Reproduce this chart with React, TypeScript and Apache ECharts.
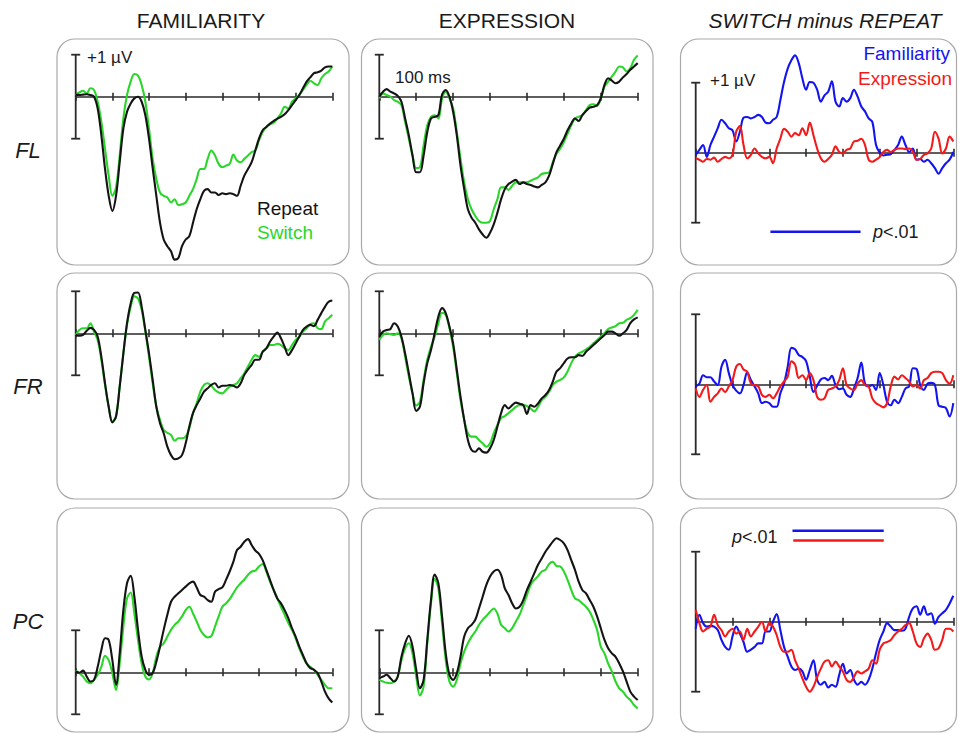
import React, { useEffect, useRef } from 'react';
import * as echarts from 'echarts';

// ---------- data (µV, sampled every 10 ms from 0 to 700 ms) ----------
const TIME_MS = [
  0, 10, 20, 30, 40, 50, 60, 70, 80, 90,
  100, 110, 120, 130, 140, 150, 160, 170, 180, 190,
  200, 210, 220, 230, 240, 250, 260, 270, 280, 290,
  300, 310, 320, 330, 340, 350, 360, 370, 380, 390,
  400, 410, 420, 430, 440, 450, 460, 470, 480, 490,
  500, 510, 520, 530, 540, 550, 560, 570, 580, 590,
  600, 610, 620, 630, 640, 650, 660, 670, 680, 690,
  700,
];
const TICK_MS = 100;

const COLUMN_TITLES = ['FAMILIARITY', 'EXPRESSION', 'SWITCH minus REPEAT'];
const ROW_LABELS = ['FL', 'FR', 'PC'];
const CONDITION_LABELS = ['Repeat', 'Switch'];
const EFFECT_LABELS = ['Familiarity', 'Expression'];

const FL_FAM_REPEAT = [
  0.05, 0.04, 0.05, 0.06, 0.04, 0, -0.28, -0.92, -1.72, -2.36,
  -2.72, -2.36, -1.56, -0.76, -0.36, -0.16, -0.04, 0, -0.12, -0.44,
  -1.0, -1.7, -2.36, -3.0, -3.4, -3.56, -3.68, -3.88, -3.84, -3.56,
  -3.4, -3.32, -3.0, -2.68, -2.44, -2.24, -2.2, -2.28, -2.28, -2.34,
  -2.3, -2.32, -2.3, -2.32, -2.36, -2.12, -1.88, -1.72, -1.56, -1.28,
  -1.0, -0.8, -0.72, -0.64, -0.58, -0.52, -0.48, -0.42, -0.32, -0.2,
  -0.08, 0.04, 0.2, 0.36, 0.46, 0.56, 0.58, 0.62, 0.7, 0.72,
  0.72,
];
const FL_FAM_SWITCH = [
  0.04, 0.1, 0.14, 0.08, 0.2, 0.16, -0.12, -0.6, -1.24, -1.88,
  -2.36, -2.16, -1.4, -0.52, 0.04, 0.36, 0.54, 0.5, 0.28, -0.12,
  -0.76, -1.48, -1.96, -2.28, -2.36, -2.4, -2.52, -2.44, -2.58, -2.56,
  -2.52, -2.36, -2.2, -1.96, -1.72, -1.72, -1.48, -1.28, -1.4, -1.6,
  -1.68, -1.64, -1.6, -1.38, -1.52, -1.56, -1.48, -1.4, -1.32, -1.28,
  -1.04, -0.84, -0.72, -0.66, -0.62, -0.52, -0.4, -0.24, -0.28, -0.12,
  -0.04, 0.04, 0.16, 0.28, 0.38, 0.32, 0.28, 0.44, 0.54, 0.6,
  0.72,
];
const FL_EXP_REPEAT = [
  0, 0.12, 0.18, 0.12, 0.08, 0.02, -0.12, -0.52, -0.92, -1.4,
  -1.8, -1.8, -1.4, -0.84, -0.52, -0.48, -0.44, 0.05, 0.16, 0,
  -0.36, -0.92, -1.64, -2.2, -2.68, -2.88, -3.0, -3.16, -3.28, -3.36,
  -3.24, -3.04, -2.76, -2.44, -2.2, -2.08, -2.02, -1.98, -2.08, -2.04,
  -2.08, -2.1, -2.14, -2.16, -2.1, -2.04, -1.88, -1.6, -1.32, -1.16,
  -1.0, -0.8, -0.64, -0.52, -0.58, -0.44, -0.34, -0.26, -0.24, -0.2,
  -0.04, 0.28, 0.44, 0.38, 0.32, 0.36, 0.46, 0.54, 0.64, 0.72,
  0.8,
];
const FL_EXP_SWITCH = [
  -0.04, 0.08, 0.04, 0, -0.08, -0.12, -0.2, -0.6, -1.0, -1.4,
  -1.7, -1.68, -1.16, -0.68, -0.48, -0.44, -0.52, -0.05, 0.12, -0.04,
  -0.28, -0.84, -1.48, -2.04, -2.44, -2.68, -2.84, -2.96, -3.0, -3.0,
  -2.96, -2.68, -2.44, -2.16, -2.16, -2.22, -2.12, -2.04, -2.04, -2.04,
  -2.04, -2.0, -1.96, -1.92, -1.84, -1.82, -1.8, -1.56, -1.36, -1.24,
  -1.08, -0.88, -0.68, -0.52, -0.48, -0.44, -0.32, -0.2, -0.18, -0.22,
  -0.04, 0.24, 0.36, 0.48, 0.6, 0.72, 0.7, 0.6, 0.68, 0.88,
  0.98,
];
const FL_DIFF_FAM = [
  -0.03, 0.04, 0.11, -0.06, 0.11, 0.23, 0.35, 0.47, 0.42, 0.35,
  0.32, 0.16, 0.3, 0.5, 0.51, 0.49, 0.51, 0.54, 0.51, 0.43,
  0.42, 0.47, 0.51, 0.75, 1.01, 1.2, 1.32, 1.39, 1.28, 1.06,
  0.9, 1.01, 1.0, 0.9, 0.73, 0.82, 0.87, 1.02, 0.73, 0.66,
  0.78, 0.73, 0.78, 0.9, 0.8, 0.66, 0.59, 0.49, 0.44, 0.11,
  0, -0.04, -0.03, -0.02, 0.04, 0.11, 0.23, 0.11, 0.01, 0.06,
  -0.1, -0.09, -0.13, -0.1, -0.15, -0.22, -0.3, -0.22, -0.15, -0.1,
  0.01,
];
const FL_DIFF_EXP = [
  -0.08, -0.1, -0.13, -0.09, -0.1, -0.07, -0.13, -0.09, -0.06, -0.08,
  -0.03, 0.3, 0.38, 0.11, -0.08, -0.03, 0.06, -0.01, -0.06, -0.08,
  -0.06, -0.15, 0.06, 0.2, 0.34, 0.3, 0.23, 0.28, 0.25, 0.35,
  0.25, 0.43, 0.25, 0.06, -0.08, -0.13, -0.09, -0.03, 0.09, 0.01,
  -0.01, 0.04, 0.06, 0.16, 0.17, 0.2, 0.11, -0.1, -0.13, -0.1,
  -0.06, 0.01, 0.04, 0.01, 0.04, 0.06, 0.06, 0.05, 0.06, 0.02,
  -0.1, -0.09, -0.03, -0.01, 0.06, 0.3, 0.2, -0.01, 0.06, 0.23,
  0.16,
];
const FR_FAM_REPEAT = [
  -0.04, -0.06, -0.04, 0.06, 0.13, 0.08, -0.08, -0.56, -1.19, -1.75,
  -2.12, -1.98, -1.27, -0.48, 0.24, 0.71, 0.96, 0.97, 0.63, 0.08,
  -0.48, -1.11, -1.75, -2.14, -2.38, -2.7, -2.9, -3.0, -2.98, -2.9,
  -2.62, -2.22, -1.9, -1.71, -1.55, -1.39, -1.31, -1.23, -1.19, -1.29,
  -1.25, -1.25, -1.23, -1.25, -1.29, -1.19, -0.99, -0.86, -0.75, -0.63,
  -0.63, -0.44, -0.36, -0.2, -0.08, 0.02, -0.12, -0.32, -0.52, -0.4,
  -0.24, -0.08, 0.08, 0.16, 0.2, 0.17, 0.32, 0.48, 0.63, 0.75,
  0.78,
];
const FR_FAM_SWITCH = [
  -0.04, 0.08, 0.12, 0.12, 0.24, 0.04, -0.16, -0.63, -1.23, -1.75,
  -2.1, -1.98, -1.27, -0.48, 0.2, 0.63, 0.88, 0.83, 0.56, 0.04,
  -0.56, -1.19, -1.75, -2.06, -2.3, -2.37, -2.42, -2.56, -2.5, -2.5,
  -2.46, -2.26, -1.9, -1.67, -1.39, -1.23, -1.19, -1.25, -1.35, -1.41,
  -1.43, -1.35, -1.27, -1.23, -1.19, -1.07, -0.95, -0.79, -0.63, -0.52,
  -0.56, -0.44, -0.36, -0.28, -0.28, -0.25, -0.28, -0.36, -0.4, -0.28,
  -0.16, -0.08, 0.04, 0.12, 0.22, 0.24, 0.12, 0.1, 0.28, 0.36,
  0.44,
];
const FR_EXP_REPEAT = [
  -0.08, 0.04, 0.08, 0.1, 0.24, 0.16, -0.08, -0.48, -0.95, -1.43,
  -1.85, -1.75, -1.19, -0.71, -0.4, 0, 0.4, 0.6, 0.48, 0.16,
  -0.24, -0.87, -1.51, -2.06, -2.54, -2.78, -2.82, -2.74, -2.82, -2.84,
  -2.74, -2.54, -2.22, -1.9, -1.71, -1.79, -1.71, -1.65, -1.68, -1.71,
  -1.92, -1.71, -1.75, -1.67, -1.55, -1.47, -1.35, -1.15, -0.91, -0.83,
  -0.71, -0.6, -0.57, -0.57, -0.52, -0.54, -0.44, -0.36, -0.28, -0.2,
  -0.12, -0.04, 0.04, 0.04, 0, -0.06, 0, 0.08, 0.24, 0.33,
  0.38,
];
const FR_EXP_SWITCH = [
  -0.16, -0.04, 0, -0.02, -0.04, 0, -0.12, -0.56, -1.03, -1.43,
  -1.72, -1.63, -1.11, -0.63, -0.32, -0.08, 0.24, 0.49, 0.44, 0.12,
  -0.32, -0.95, -1.59, -2.06, -2.38, -2.46, -2.46, -2.54, -2.62, -2.7,
  -2.62, -2.38, -2.18, -2.02, -1.97, -1.9, -1.83, -1.75, -1.71, -1.71,
  -1.73, -1.79, -1.86, -1.75, -1.59, -1.51, -1.39, -1.23, -1.15, -1.11,
  -1.05, -0.91, -0.71, -0.56, -0.48, -0.44, -0.38, -0.32, -0.24, -0.16,
  -0.08, 0, 0.1, 0.14, 0.17, 0.24, 0.25, 0.32, 0.36, 0.44,
  0.56,
];
const FR_DIFF_FAM = [
  -0.03, 0.01, 0.13, 0.1, 0.1, 0.04, -0.01, 0.25, 0.35, 0.16,
  -0.01, -0.09, -0.13, -0.01, 0.17, 0.06, -0.03, -0.13, -0.27, -0.25,
  -0.27, -0.32, -0.32, -0.13, 0.01, 0.25, 0.52, 0.5, 0.42, 0.39,
  0.33, 0.11, -0.11, -0.02, 0.07, 0.09, 0.06, 0.12, -0.01, -0.07,
  -0.06, -0.15, -0.18, -0.06, 0.09, 0.31, 0.01, -0.03, -0.01, -0.08,
  0.16, -0.01, -0.25, -0.3, -0.22, -0.27, -0.18, -0.06, -0.03, 0.23,
  0.22, -0.01, -0.08, 0.01, 0.02, -0.01, -0.3, -0.32, -0.34, -0.46,
  -0.27,
];
const FR_DIFF_EXP = [
  -0.06, -0.18, -0.08, -0.01, -0.25, -0.18, -0.13, -0.06, -0.11, -0.03,
  0.06, 0.25, 0.29, 0.21, 0.18, 0.01, -0.01, -0.03, -0.15, -0.18,
  -0.15, -0.2, -0.13, -0.03, 0.04, 0.11, 0.33, 0.28, 0.09, 0.13,
  0.06, 0.16, 0.06, -0.18, -0.22, -0.2, -0.08, -0.06, -0.03, 0.06,
  0.23, -0.01, -0.06, -0.08, 0.01, 0.06, -0.01, -0.03, -0.2, -0.27,
  -0.3, -0.33, -0.27, -0.03, 0.11, 0.07, 0.13, 0.09, 0.04, -0.03,
  -0.01, -0.06, 0.06, 0.09, 0.16, 0.18, 0.18, 0.16, 0.06, 0.01,
  0.13,
];
const PC_FAM_REPEAT = [
  0.02, -0.01, 0.04, -0.1, -0.22, -0.18, 0.13, 0.53, 0.81, 0.77,
  0.29, -0.3, 0.45, 1.48, 2.12, 2.3, 1.8, 1.01, 0.37, 0.06,
  -0.06, -0.02, 0.25, 0.61, 1.01, 1.37, 1.68, 1.8, 1.88, 1.96,
  2.04, 2.12, 2.16, 2.02, 1.84, 1.8, 1.72, 1.68, 1.92, 1.98,
  2.02, 2.2, 2.4, 2.63, 2.91, 2.99, 3.11, 3.17, 3.03, 2.9,
  2.82, 2.67, 2.44, 2.2, 1.96, 1.76, 1.64, 1.48, 1.29, 1.05,
  0.85, 0.61, 0.41, 0.21, 0.1, 0.06, -0.02, -0.22, -0.46, -0.62,
  -0.72,
];
const PC_FAM_SWITCH = [
  0.04, -0.02, -0.1, -0.22, -0.26, -0.18, -0.06, 0.13, 0.39, 0.29,
  -0.02, -0.42, 0.21, 1.09, 1.76, 1.9, 1.4, 0.77, 0.21, -0.1,
  -0.17, -0.02, 0.37, 0.61, 0.69, 0.85, 1.01, 1.13, 1.21, 1.33,
  1.48, 1.56, 1.4, 1.21, 1.01, 0.89, 0.83, 0.86, 1.09, 1.33,
  1.56, 1.64, 1.74, 1.88, 2.02, 2.12, 2.21, 2.32, 2.4, 2.42,
  2.52, 2.58, 2.4, 2.16, 1.96, 1.76, 1.56, 1.37, 1.17, 1.01,
  0.81, 0.57, 0.37, 0.21, 0.13, 0.06, -0.06, -0.18, -0.3, -0.38,
  -0.38,
];
const PC_EXP_REPEAT = [
  -0.14, -0.1, -0.06, -0.14, -0.22, -0.1, 0.37, 0.69, 0.87, 0.61,
  0.06, -0.38, -0.18, 0.77, 1.72, 2.33, 2.12, 1.33, 0.45, -0.06,
  -0.18, -0.02, 0.37, 0.85, 1.05, 1.13, 1.25, 1.52, 1.8, 2.08,
  2.28, 2.4, 2.44, 2.32, 2.0, 1.84, 1.64, 1.52, 1.56, 1.72,
  1.96, 2.16, 2.36, 2.56, 2.71, 2.87, 2.99, 3.11, 3.19, 3.15,
  3.07, 2.91, 2.67, 2.44, 2.16, 1.96, 1.88, 1.72, 1.56, 1.33,
  1.05, 0.77, 0.57, 0.45, 0.37, 0.21, 0.02, -0.22, -0.46, -0.58,
  -0.66,
];
const PC_EXP_SWITCH = [
  -0.18, -0.22, -0.25, -0.26, -0.22, -0.1, 0.29, 0.57, 0.69, 0.45,
  -0.1, -0.55, -0.34, 0.69, 1.64, 2.22, 2.0, 1.17, 0.29, -0.22,
  -0.34, -0.18, 0.21, 0.49, 0.69, 0.85, 0.97, 1.13, 1.25, 1.34,
  1.44, 1.52, 1.4, 1.13, 1.05, 0.97, 1.05, 1.21, 1.37, 1.6,
  1.84, 2.08, 2.2, 2.29, 2.4, 2.44, 2.58, 2.63, 2.53, 2.52,
  2.4, 2.2, 1.96, 1.76, 1.72, 1.64, 1.56, 1.44, 1.25, 1.01,
  0.61, 0.45, 0.21, 0.02, -0.22, -0.38, -0.46, -0.58, -0.66, -0.78,
  -0.86,
];
const PC_DIFF_FAM = [
  -0.1, 0.1, -0.02, -0.07, -0.06, -0.07, -0.12, -0.26, -0.36, -0.4,
  -0.21, -0.07, -0.17, -0.29, -0.43, -0.4, -0.36, -0.31, -0.31, -0.14,
  -0.14, 0, 0.11, -0.12, -0.36, -0.5, -0.64, -0.69, -0.67, -0.71,
  -0.83, -0.69, -0.55, -0.83, -0.9, -0.86, -0.94, -0.9, -0.93, -0.76,
  -0.6, -0.74, -0.69, -0.83, -0.9, -0.86, -0.9, -0.83, -0.67, -0.45,
  -0.26, -0.14, -0.02, -0.07, -0.12, -0.12, -0.13, -0.1, 0.07, 0.19,
  0.22, 0.1, 0.22, 0.1, 0.12, -0.03, 0.07, 0.12, 0.17, 0.26,
  0.37,
];
const PC_DIFF_EXP = [
  0.17, -0.02, -0.14, -0.1, -0.07, 0.1, -0.05, -0.12, -0.21, -0.14,
  -0.1, -0.17, -0.14, -0.26, -0.1, -0.21, -0.14, -0.07, 0, -0.14,
  -0.02, -0.07, -0.19, -0.36, -0.43, -0.43, -0.4, -0.55, -0.67, -0.81,
  -0.93, -1.0, -0.93, -0.79, -0.67, -0.57, -0.55, -0.64, -0.57, -0.64,
  -0.71, -0.83, -0.86, -0.79, -0.71, -0.74, -0.71, -0.67, -0.55, -0.6,
  -0.4, -0.31, -0.29, -0.26, -0.19, -0.14, -0.1, -0.05, -0.02, -0.14,
  -0.31, -0.36, -0.24, -0.17, -0.26, -0.4, -0.38, -0.26, -0.1, -0.1,
  -0.14,
];

// significance windows (ms) and the µV level at which the bar is drawn
const SIG_FL_FAMILIARITY_MS = [203, 448];
const SIG_FL_FAMILIARITY_LEVEL = -1.13;
const SIG_PC_FAMILIARITY_MS = [263, 511];
const SIG_PC_FAMILIARITY_LEVEL = 1.3;
const SIG_PC_EXPRESSION_MS = [265, 511];
const SIG_PC_EXPRESSION_LEVEL = 1.16;

const SCALE_BAR_UV = [-1, 1];

// ---------- styles ----------
const BLACK = '#141414';
const GREEN = '#2bd62b';
const BLUE = '#1414f0';
const RED = '#f21a1a';
const AXIS = '#2a2a2a';
const FONT = '"Liberation Sans", Arial, sans-serif';

const COLS = [
  { left: 75.7, width: 256.6, boxX: 57, boxW: 292 },
  { left: 379.3, width: 258.4, boxX: 361.5, boxW: 291.5 },
  { left: 695.7, width: 257.6, boxX: 680.5, boxW: 276 },
];
const ROWS = [
  { base: 96.7, baseR: 152.7, boxY: 39, boxH: 226, min: -4, max: 1, minR: -1.5, maxR: 1.5 },
  { base: 333.3, baseR: 384.3, boxY: 273, boxH: 226, min: -4, max: 1, minR: -1.5, maxR: 1.5 },
  { base: 672.3, baseR: 621.7, boxY: 508, boxH: 224, min: -1, max: 3.5, minR: -1.5, maxR: 1.5 },
];
const PX_PER_UV = 42;
const PX_PER_UV_R = 70;
const CAP_HALF_PX = 4.5;

type Trace = { name: string; values: number[]; color: string };
type Panel = { col: number; row: number; traces: Trace[]; sig?: { ms: number[]; level: number; color: string }[] };

const PANELS: Panel[] = [
  { col: 0, row: 0, traces: [{ name: 'Switch', values: FL_FAM_SWITCH, color: GREEN }, { name: 'Repeat', values: FL_FAM_REPEAT, color: BLACK }] },
  { col: 1, row: 0, traces: [{ name: 'Switch', values: FL_EXP_SWITCH, color: GREEN }, { name: 'Repeat', values: FL_EXP_REPEAT, color: BLACK }] },
  {
    col: 2, row: 0,
    traces: [{ name: 'Familiarity', values: FL_DIFF_FAM, color: BLUE }, { name: 'Expression', values: FL_DIFF_EXP, color: RED }],
    sig: [{ ms: SIG_FL_FAMILIARITY_MS, level: SIG_FL_FAMILIARITY_LEVEL, color: BLUE }],
  },
  { col: 0, row: 1, traces: [{ name: 'Switch', values: FR_FAM_SWITCH, color: GREEN }, { name: 'Repeat', values: FR_FAM_REPEAT, color: BLACK }] },
  { col: 1, row: 1, traces: [{ name: 'Switch', values: FR_EXP_SWITCH, color: GREEN }, { name: 'Repeat', values: FR_EXP_REPEAT, color: BLACK }] },
  { col: 2, row: 1, traces: [{ name: 'Familiarity', values: FR_DIFF_FAM, color: BLUE }, { name: 'Expression', values: FR_DIFF_EXP, color: RED }] },
  { col: 0, row: 2, traces: [{ name: 'Switch', values: PC_FAM_SWITCH, color: GREEN }, { name: 'Repeat', values: PC_FAM_REPEAT, color: BLACK }] },
  { col: 1, row: 2, traces: [{ name: 'Switch', values: PC_EXP_SWITCH, color: GREEN }, { name: 'Repeat', values: PC_EXP_REPEAT, color: BLACK }] },
  {
    col: 2, row: 2,
    traces: [{ name: 'Familiarity', values: PC_DIFF_FAM, color: BLUE }, { name: 'Expression', values: PC_DIFF_EXP, color: RED }],
    sig: [
      { ms: SIG_PC_FAMILIARITY_MS, level: SIG_PC_FAMILIARITY_LEVEL, color: BLUE },
      { ms: SIG_PC_EXPRESSION_MS, level: SIG_PC_EXPRESSION_LEVEL, color: RED },
    ],
  },
];

function text(x: number, y: number, str: string, size: number, opts: any = {}) {
  const align = opts.align || 'left';
  return {
    type: 'text',
    x,
    y,
    z: 10,
    style: {
      text: str,
      fontSize: size,
      fontFamily: FONT,
      fontStyle: opts.italic ? 'italic' : 'normal',
      fill: opts.color || '#1a1a1a',
      textAlign: align,
      align,
      textVerticalAlign: 'middle',
      verticalAlign: 'middle',
      rich: opts.rich,
    },
  };
}

function buildGraphicBase() {
  const graphic: any[] = [];
  PANELS.forEach((p) => {
    const c = COLS[p.col];
    const r = ROWS[p.row];
    graphic.push({
      type: 'rect',
      z: 0,
      shape: { x: c.boxX, y: r.boxY, width: c.boxW, height: r.boxH, r: 18 },
      style: { fill: 'none', stroke: '#a9a9a9', lineWidth: 1.2 },
    });
  });
  graphic.push(text(201, 20, COLUMN_TITLES[0], 21, { align: 'center' }));
  graphic.push(text(507, 20, COLUMN_TITLES[1], 21, { align: 'center' }));
  graphic.push(text(825, 20, COLUMN_TITLES[2], 21, { align: 'center', italic: true }));
  graphic.push(text(28, 150, ROW_LABELS[0], 22, { align: 'center', italic: true }));
  graphic.push(text(28, 386, ROW_LABELS[1], 22, { align: 'center', italic: true }));
  graphic.push(text(28, 621, ROW_LABELS[2], 22, { align: 'center', italic: true }));
  graphic.push(text(87, 57, '+1 µV', 17));
  graphic.push(text(395, 77, '100 ms', 17));
  graphic.push(text(710, 80, '+1 µV', 17));
  graphic.push(text(257, 208, CONDITION_LABELS[0], 19, { color: BLACK }));
  graphic.push(text(257, 232, CONDITION_LABELS[1], 19, { color: GREEN }));
  graphic.push(text(950, 53, EFFECT_LABELS[0], 19, { align: 'right', color: BLUE }));
  graphic.push(text(952, 78, EFFECT_LABELS[1], 19, { align: 'right', color: RED }));
  const pRich = { i: { fontStyle: 'italic', fontSize: 18, fontFamily: FONT, fill: '#1a1a1a' } };
  graphic.push(text(873, 232, '{i|p}<.01', 18, { rich: pRich }));
  graphic.push(text(732, 537, '{i|p}<.01', 18, { rich: pRich }));
  return graphic;
}

function buildOption() {
  const grid: any[] = [];
  const xAxis: any[] = [];
  const yAxis: any[] = [];
  const series: any[] = [];

  PANELS.forEach((p, i) => {
    const c = COLS[p.col];
    const r = ROWS[p.row];
    const right = p.col === 2;
    const min = right ? r.minR : r.min;
    const max = right ? r.maxR : r.max;
    const scale = right ? PX_PER_UV_R : PX_PER_UV;
    const base = right ? r.baseR : r.base;
    grid.push({
      left: c.left,
      top: base - max * scale,
      width: c.width,
      height: (max - min) * scale,
      containLabel: false,
      outerBoundsMode: 'none',
    });
    const axisCommon = {
      type: 'value',
      gridIndex: i,
      min: TIME_MS[0],
      max: TIME_MS[TIME_MS.length - 1],
      interval: TICK_MS,
      axisLabel: { show: false },
      splitLine: { show: false },
    };
    xAxis.push({
      ...axisCommon,
      position: 'bottom',
      axisLine: { show: true, onZero: true, onZeroAxisIndex: i, lineStyle: { color: AXIS, width: 1.6 } },
      axisTick: { show: true, inside: false, length: 4, lineStyle: { color: AXIS, width: 1.6 } },
    });
    xAxis.push({
      ...axisCommon,
      position: 'top',
      axisLine: { show: false, onZero: true, onZeroAxisIndex: i, lineStyle: { color: AXIS, width: 1.6 } },
      axisTick: { show: true, inside: false, length: 4, lineStyle: { color: AXIS, width: 1.6 } },
    });
    yAxis.push({ type: 'value', gridIndex: i, min, max, show: false });

    const xIdx = i * 2;
    const lineCommon = {
      type: 'line',
      xAxisIndex: xIdx,
      yAxisIndex: i,
      symbol: 'none',
      clip: false,
      silent: true,
      animation: false,
    };
    // vertical scale bar (±1 µV)
    series.push({
      ...lineCommon,
      data: [[TIME_MS[0], SCALE_BAR_UV[0]], [TIME_MS[0], SCALE_BAR_UV[1]]],
      lineStyle: { color: AXIS, width: 1.8 },
    });
    p.traces.forEach((t) => {
      series.push({
        ...lineCommon,
        name: t.name,
        smooth: 0.35,
        data: TIME_MS.map((ms, k) => [ms, t.values[k]]),
        lineStyle: { color: t.color, width: 2.1 },
        z: 3,
      });
    });
    (p.sig || []).forEach((s) => {
      series.push({
        ...lineCommon,
        data: [[s.ms[0], s.level], [s.ms[1], s.level]],
        lineStyle: { color: s.color, width: 2.4 },
      });
    });
  });

  return {
    animation: false,
    backgroundColor: '#ffffff',
    grid,
    xAxis,
    yAxis,
    series,
    graphic: { elements: buildGraphicBase() },
  };
}

export default function App() {
  const ref = useRef<HTMLDivElement>(null);
  useEffect(() => {
    document.body.style.margin = '0';
    const chart = echarts.init(ref.current as HTMLDivElement, null, { renderer: 'svg' });
    chart.setOption(buildOption() as any);
    // caps of the scale bars, placed through the axes' own scales
    const caps: any[] = [];
    PANELS.forEach((_p, i) => {
      SCALE_BAR_UV.forEach((uv) => {
        const pt = chart.convertToPixel({ xAxisIndex: i * 2, yAxisIndex: i } as any, [TIME_MS[0], uv]) as number[];
        if (pt && isFinite(pt[0]) && isFinite(pt[1])) {
          caps.push({
            type: 'line',
            z: 5,
            shape: { x1: pt[0] - CAP_HALF_PX, y1: pt[1], x2: pt[0] + CAP_HALF_PX, y2: pt[1] },
            style: { stroke: AXIS, lineWidth: 1.8 },
          });
        }
      });
    });
    chart.setOption({ graphic: { elements: [...buildGraphicBase(), ...caps] } } as any);
    return () => chart.dispose();
  }, []);
  return <div ref={ref} style={{ width: 959, height: 733 }} />;
}
